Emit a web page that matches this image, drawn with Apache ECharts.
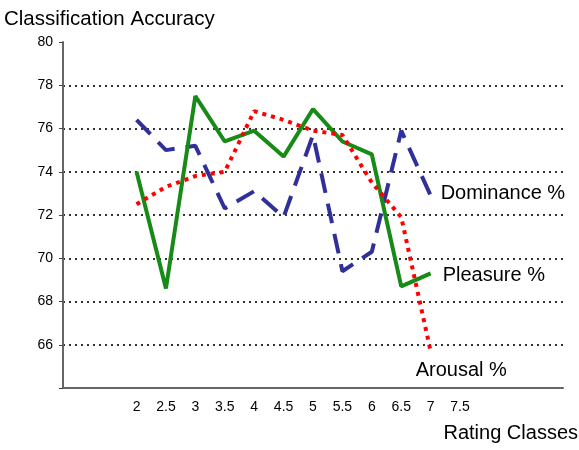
<!DOCTYPE html>
<html>
<head>
<meta charset="utf-8">
<script src="https://cdn.jsdelivr.net/npm/echarts@6/dist/echarts.min.js"></script>
<style>
  html, body { margin: 0; padding: 0; background: #fff; }
  #main { width: 579px; height: 450px; }
</style>
</head>
<body>
<div id="main"></div>
<script>
// rating classes (blank slots at both ends, like the original axis)
var categories = ['', '', '2', '2.5', '3', '3.5', '4', '4.5', '5', '5.5', '6', '6.5', '7', '7.5', '', '', ''];

// accuracy values, one per class 2 .. 7
var dominance = [null, null, 76.4, 75.0, 75.2, 72.3, 73.1, 71.9, 75.7, 69.4, 70.3, 75.9, 72.9];
var pleasure  = [null, null, 74.0, 68.6, 77.5, 75.4, 75.9, 74.7, 76.9, 75.4, 74.8, 68.7, 69.3];
var arousal   = [null, null, 72.5, 73.3, 73.8, 74.0, 76.8, 76.4, 75.9, 75.7, 73.5, 71.9, 65.7];

var font = 'Liberation Sans, Arial, sans-serif';

var myChart = echarts.init(document.getElementById('main'));

myChart.setOption({
  animation: false,
  backgroundColor: '#fff',
  title: [
    { text: 'Classification Accuracy', left: -1, top: 4,
      textStyle: { fontSize: 20.5, fontWeight: 'normal', color: '#000', fontFamily: font } },
    { text: 'Rating Classes', right: 1, top: 423, padding: 0,
      textStyle: { fontSize: 20, fontWeight: 'normal', color: '#000', fontFamily: font } }
  ],
  grid: { left: 63, right: 16, top: 42, bottom: 62 },
  xAxis: {
    type: 'category',
    data: categories,
    axisLine: { lineStyle: { color: '#666', width: 2 } },
    axisTick: { length: 4, lineStyle: { color: '#444' } },
    axisLabel: { color: '#000', fontSize: 14, fontFamily: font, margin: 12, interval: 0 },
    splitLine: { show: false }
  },
  yAxis: {
    type: 'value',
    min: 64,
    max: 80,
    interval: 2,
    axisLine: { show: true, lineStyle: { color: '#666', width: 2 } },
    axisTick: { show: true, length: 4, lineStyle: { color: '#444' } },
    axisLabel: {
      color: '#000', fontSize: 14, fontFamily: font, margin: 10,
      formatter: function (v) { return v === 64 ? '' : v; }
    },
    splitLine: {
      show: true,
      showMaxLine: false,
      lineStyle: { color: '#333', width: 2, type: [2, 4] }
    }
  },
  series: [
    {
      name: 'Dominance %',
      type: 'line',
      data: dominance,
      symbol: 'none',
      lineStyle: { color: '#30309a', width: 4, type: [20, 11], cap: 'butt' },
      endLabel: { show: true, formatter: '{a}', distance: 10, offset: [0, -2],
        color: '#000', fontSize: 20, fontFamily: font }
    },
    {
      name: 'Pleasure %',
      type: 'line',
      data: pleasure,
      symbol: 'none',
      lineStyle: { color: '#178a17', width: 4 },
      endLabel: { show: true, formatter: '{a}', distance: 12, offset: [0, 2],
        color: '#000', fontSize: 20, fontFamily: font }
    },
    {
      name: 'Arousal %',
      type: 'line',
      data: arousal,
      symbol: 'none',
      lineStyle: { color: '#ff0000', width: 4, type: [4, 5], cap: 'butt' },
      endLabel: { show: true, formatter: '{a}', distance: 0, offset: [-15, 19],
        color: '#000', fontSize: 20, fontFamily: font }
    }
  ]
});
</script>
</body>
</html>
